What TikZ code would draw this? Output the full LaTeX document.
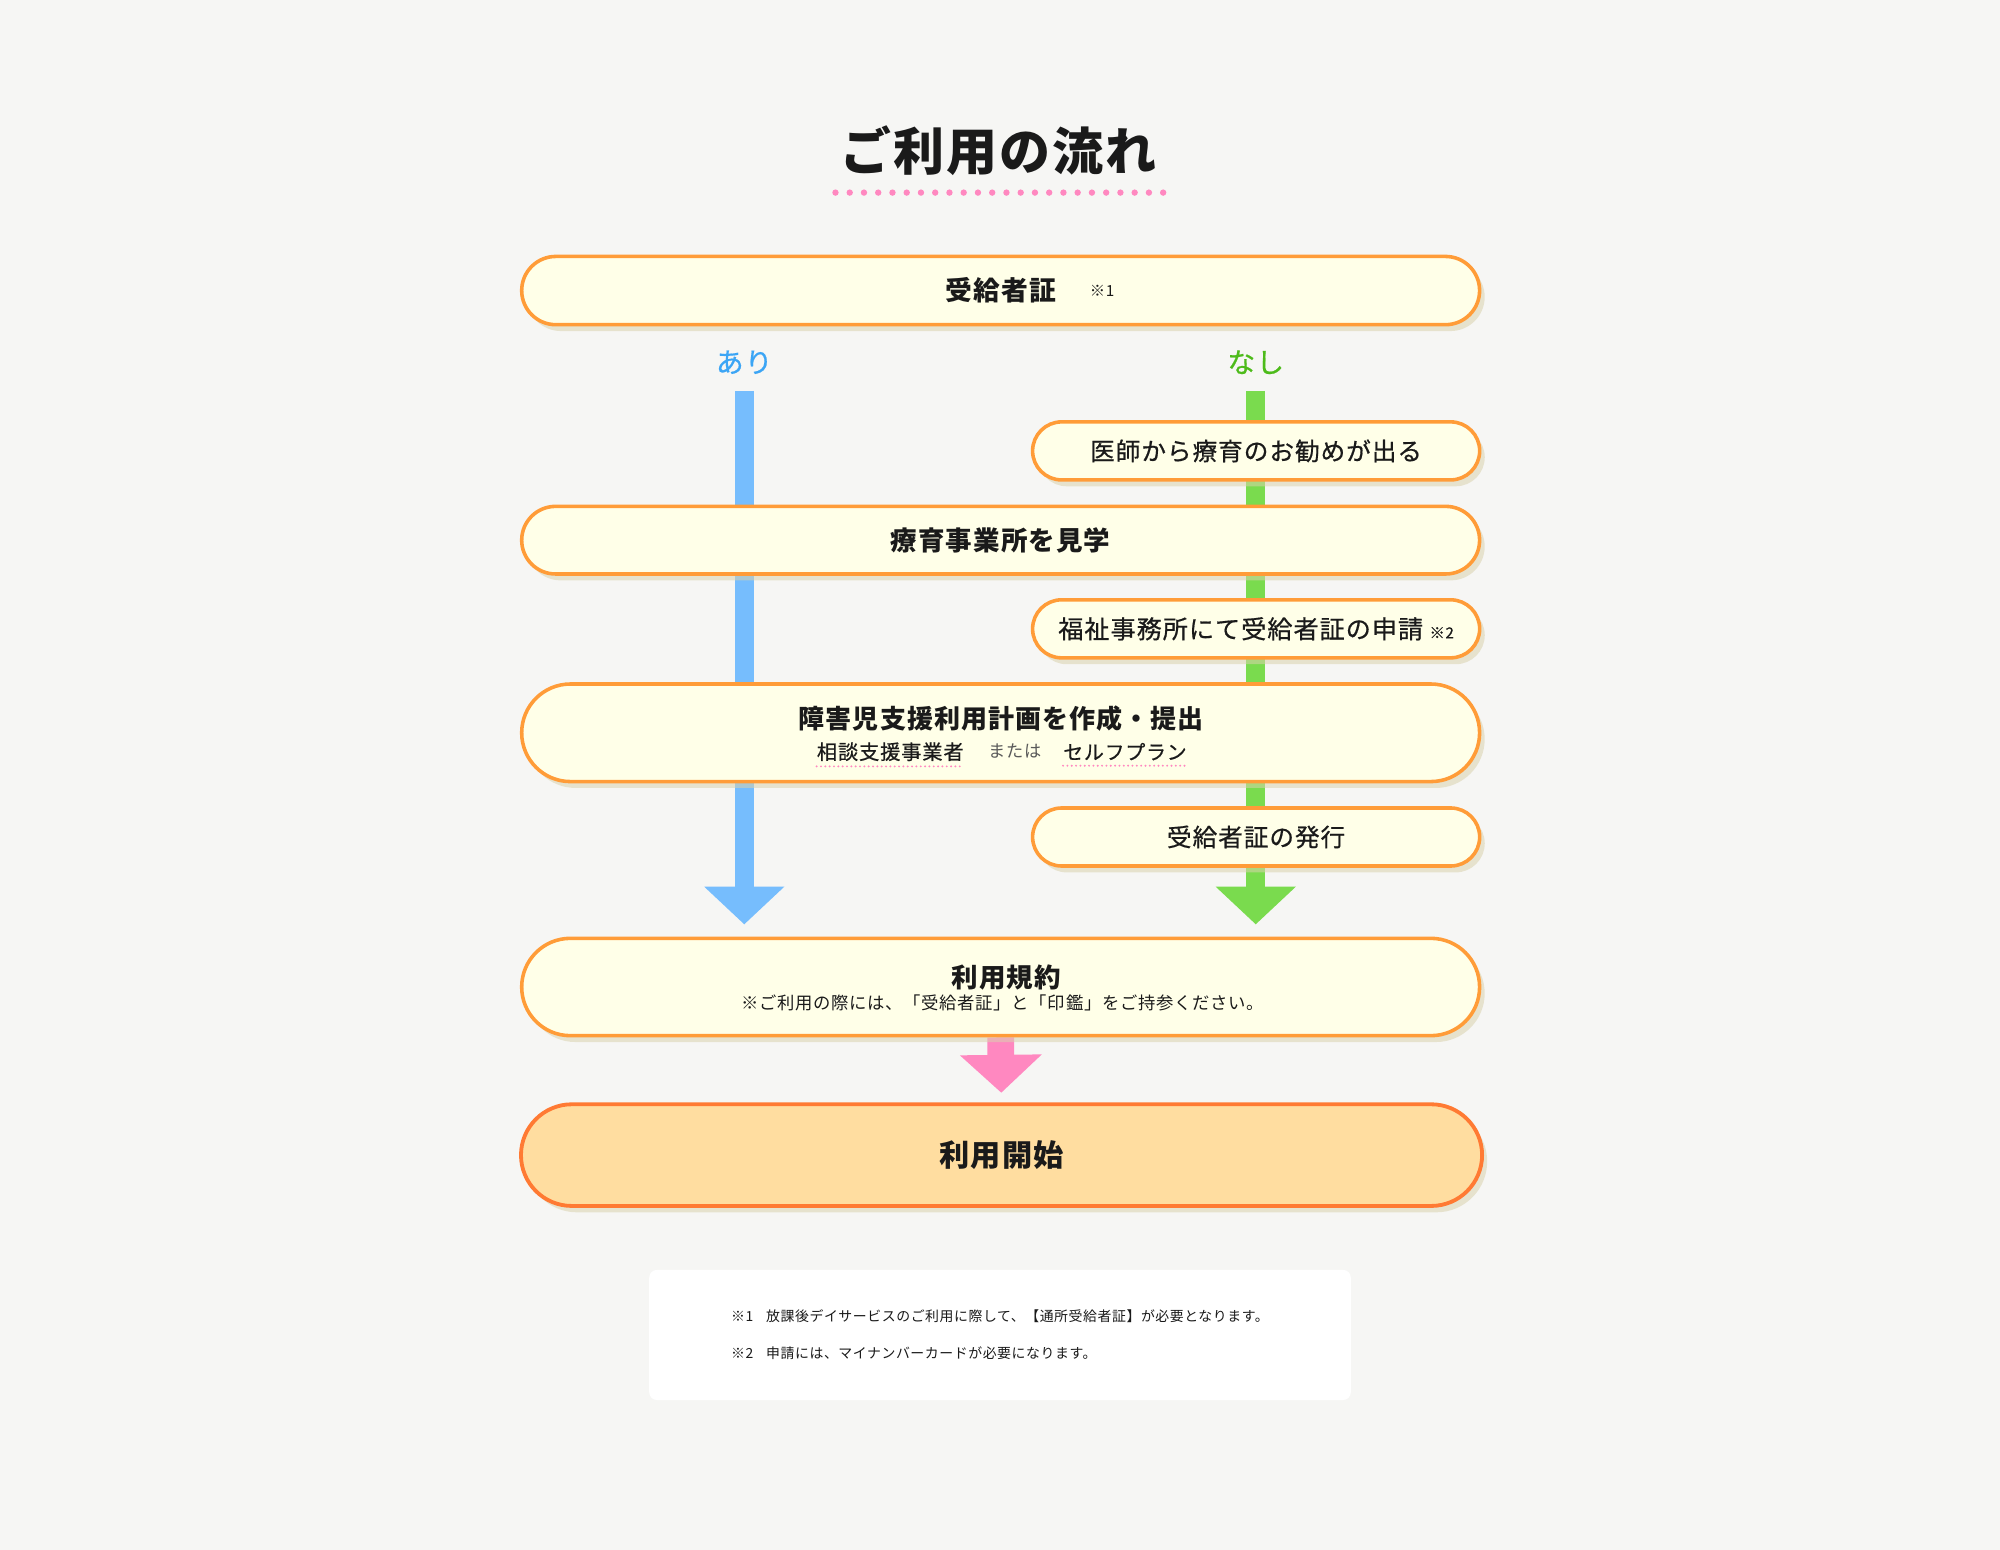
\documentclass[tikz,border=0pt]{standalone}
\usepackage{fontspec}
\setmainfont{Noto Sans CJK JP}[LetterSpace=4]
\newfontfamily\jpmed{Noto Sans CJK JP}[LetterSpace=4, FakeBold=0.6]
\usetikzlibrary{shapes.misc,arrows.meta,positioning,shadows,backgrounds}
\newcommand{\jpsize}[1]{\fontsize{#1}{#1}\selectfont}
\definecolor{paper}{RGB}{246,246,244}
\definecolor{cream}{RGB}{255,255,232}
\definecolor{edge}{RGB}{255,156,56}
\definecolor{edgeEnd}{RGB}{255,122,51}
\definecolor{peach}{RGB}{255,221,160}
\definecolor{shade}{RGB}{218,210,174}
\definecolor{flowBlue}{RGB}{118,189,253}
\definecolor{flowGreen}{RGB}{122,219,78}
\definecolor{flowPink}{RGB}{255,136,192}
\definecolor{ariBlue}{RGB}{59,165,245}
\definecolor{nashiGreen}{RGB}{77,187,26}
\definecolor{ink}{RGB}{26,26,26}
\tikzset{
    stage/.style={rounded rectangle, draw=edge, line width=2.8pt, fill=cream, text=ink,
                  minimum width=751pt, inner sep=0pt,
                  drop shadow={shadow xshift=4pt, shadow yshift=-5pt, fill=shade, opacity=0.55}},
    stageS/.style={stage, minimum width=350.5pt, minimum height=45.5pt},
    stageEnd/.style={stage, draw=edgeEnd, line width=3pt, fill=peach, minimum width=753.5pt},
    noteBox/.style={draw=none, fill=white, rounded corners=6pt, minimum width=550pt,
                    minimum height=102pt, align=left, text=ink, inner sep=0pt},
    noteMark/.style={font=\jpsize{12}, text=ink, inner sep=0pt},
    txt/.style={text=ink, inner sep=0pt},
    flowA/.style={line width=15pt, draw=flowBlue, -{Triangle[width=61pt, length=29.5pt]}},
    flowB/.style={line width=15pt, draw=flowGreen, -{Triangle[width=61pt, length=29.5pt]}},
    flowEnd/.style={line width=21pt, draw=flowPink, -{Triangle[width=62.5pt, length=29.7pt]}},
    titleDots/.style={draw=flowPink, line width=5pt, line cap=round, dash pattern=on 0pt off 11.17pt},
    underDots/.style={draw=flowPink, line width=1.7pt, line cap=round, dash pattern=on 0pt off 3.4pt},
}

\begin{document}
\begin{tikzpicture}[x=1pt, y=-1pt]
    % Paper
    \begin{scope}[on background layer]
        \fill[paper] (0,0) rectangle (1568,1215);
    \end{scope}

    % Title
    \node[txt, font=\bfseries\jpsize{40}] (title) at (783,118) {ご利用の流れ};
    \draw[titleDots] (655,151) -- (912,151);

    % Certificate
    \node[stage, minimum height=53.5pt, font=\bfseries\jpsize{21}] (cert) at (784.5,227.8) {受給者証};
    \node[noteMark] (certMark) at (864,228) {※1};

    % Branches
    \node[txt, font=\jpmed\jpsize{21.8}, text=ariBlue] (ari) at (583.5,284) {あり};
    \node[txt, font=\jpmed\jpsize{21.8}, text=nashiGreen] (nashi) at (984.5,284) {なし};
    \coordinate (ariTop) at (583.5,306.5);
    \coordinate (ariEnd) at (583.5,724.7);
    \coordinate (nashiTop) at (984.5,306.5);
    \coordinate (nashiEnd) at (984.5,724.7);

    % Steps
    \node[stageS, font=\jpmed\jpsize{19.3}] (doctor) at (984.8,353.5) {医師から療育のお勧めが出る};
    \node[stage, minimum height=53pt, font=\bfseries\jpsize{20.8}] (visit) at (784.5,423.5) {療育事業所を見学};
    \node[stageS, font=\jpmed\jpsize{19.7}] (apply) at (984.8,493) {福祉事務所にて受給者証の申請\hspace{5pt}{\jpsize{12}※2}};
    \node[stage, minimum height=76.5pt] (plan) at (784.5,574.5) {};
    \node[txt, font=\bfseries\jpsize{20.4}] (planTitle) at (785,563.2) {障害児支援利用計画を作成・提出};
    \node[txt, font=\jpmed\jpsize{15.9}] (consult) at (698,589.3) {相談支援事業者};
    \node[txt, font=\jpsize{13.5}, text=black!65] (orText) at (796,589) {または};
    \node[txt, font=\jpmed\jpsize{15.6}] (selfPlan) at (882,589.3) {セルフプラン};
    \draw[underDots] ([yshift=-4pt]consult.south west) -- ([yshift=-4pt]consult.south east);
    \draw[underDots] ([yshift=-4pt]selfPlan.south west) -- ([yshift=-4pt]selfPlan.south east);
    \node[stageS, font=\jpmed\jpsize{19.3}] (issue) at (984.8,656.2) {受給者証の発行};

    % Terms
    \node[stage, minimum height=76.3pt] (terms) at (784.5,773.8) {};
    \node[txt, font=\bfseries\jpsize{20.8}] (termsTitle) at (789,766.3) {利用規約};
    \node[txt, font=\jpsize{13.6}] (termsNote) at (786,786.6) {※ご利用の際には、「受給者証」と「印鑑」をご持参ください。};
    \coordinate (startTip) at (785,856.7);

    % Start
    \node[stageEnd, minimum height=79.7pt, font=\bfseries\jpsize{23.7}] (start) at (785.2,905.6) {利用開始};

    % Notes
    \node[noteBox, font={\fontsize{10.9}{29.2}\selectfont}] (notes) at (784,1046.6)
        {※1\hspace{10pt}放課後デイサービスのご利用に際して、【通所受給者証】が必要となります。\\
         ※2\hspace{10pt}申請には、マイナンバーカードが必要になります。};

    % Flows
    \begin{scope}[on background layer]
        \draw[flowA] (ariTop) -- (ariEnd);
        \draw[flowB] (nashiTop) -- (nashiEnd);
        \draw[flowEnd] (terms.south) -- (startTip);
    \end{scope}
\end{tikzpicture}
\end{document}
